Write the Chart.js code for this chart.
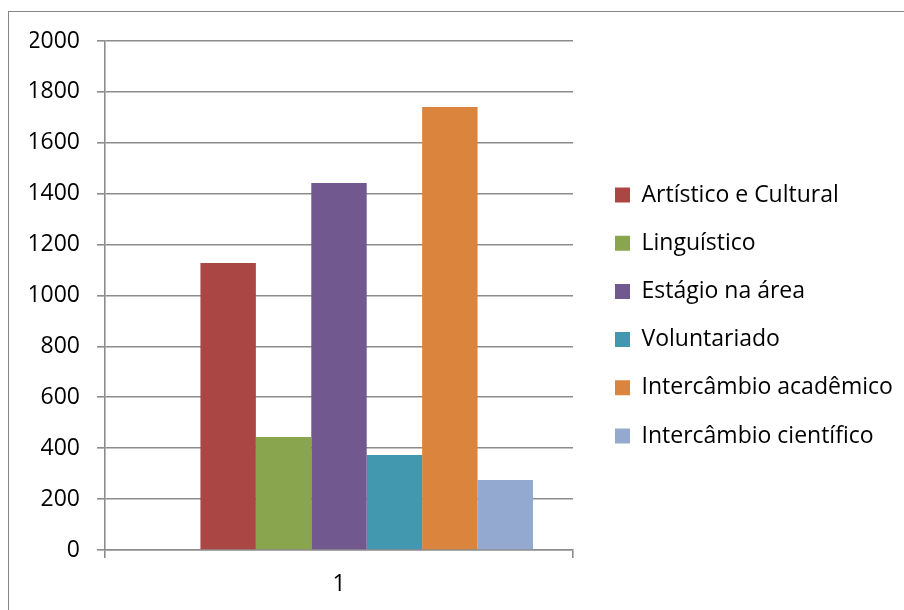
<!DOCTYPE html>
<html>
<head>
<meta charset="utf-8">
<script src="https://cdn.jsdelivr.net/npm/chart.js@4"></script>
<style>
  html, body { margin: 0; padding: 0; background: #fff; }
  #wrap { position: relative; width: 904px; height: 610px; overflow: hidden; }
  #frame { position: absolute; left: 8px; top: 11px; width: 1000px; height: 700px; border: 1px solid #868686; }
  #grafico { position: absolute; left: 0; top: 0; }
</style>
</head>
<body>
<div id="wrap">
  <div id="frame"></div>
  <canvas id="grafico" width="904" height="610"></canvas>
</div>
<script>
// Dados do gráfico
const categorias = ['1'];
const nomesSeries = ['', 'Artístico e Cultural', 'Linguístico', 'Estágio na área', 'Voluntariado', 'Intercâmbio acadêmico', 'Intercâmbio científico'];
const serieVazia = [null];          // série sem valor (ocupa o primeiro lugar do grupo)
const artistico = [1128];
const linguistico = [444];
const estagio = [1442];
const voluntariado = [373];
const intercambioAcademico = [1741];
const intercambioCientifico = [275];
const ticksY = { min: 0, max: 2000, passo: 200 };

const cores = ['#ffffff', '#AA4643', '#89A54E', '#71588F', '#4198AF', '#DB843D', '#93A9CF'];
const valores = [serieVazia, artistico, linguistico, estagio, voluntariado, intercambioAcademico, intercambioCientifico];

Chart.defaults.font.family = '"Open Sans", "Liberation Sans", sans-serif';
Chart.defaults.font.size = 23;
Chart.defaults.color = '#000';

// coloca a legenda à direita do gráfico, como no original
const posicionaLegenda = {
    id: 'posicionaLegenda',
    afterLayout(chart) {
        const lg = chart.legend;
        const pad = lg.options.labels.padding;
        lg.left = 615 - pad;
        lg.top = 183.5 - pad;
        lg.right = chart.width;
        lg.bottom = chart.height;
    }
};

const corGrade = '#8c8c8c';

new Chart(document.getElementById('grafico'), {
    type: 'bar',
    data: {
        labels: categorias,
        datasets: valores.map((v, i) => ({
            label: nomesSeries[i],
            data: v,
            backgroundColor: cores[i],
            borderWidth: 0,
            barPercentage: 1,
            categoryPercentage: 0.829
        }))
    },
    options: {
        responsive: false,
        animation: false,
        layout: { padding: { left: 30, top: 41, right: 331, bottom: 0 } },
        plugins: {
            legend: {
                position: 'chartArea',
                align: 'start',
                labels: {
                    boxWidth: 15,
                    boxHeight: 15,
                    padding: 25.2,
                    color: '#000',
                    filter: (item) => item.text !== ''
                }
            },
            tooltip: { enabled: false }
        },
        scales: {
            x: {
                offset: true,
                grid: { display: true, drawOnChartArea: false, offset: true, tickLength: 8, color: corGrade, lineWidth: 1.6 },
                border: { color: corGrade, width: 1.6 },
                ticks: { padding: 13, color: '#000' },
                afterFit(scale) { scale.height = 60; }
            },
            y: {
                min: ticksY.min,
                max: ticksY.max,
                ticks: { stepSize: ticksY.passo, padding: 17, color: '#000', callback: (v) => String(v) },
                grid: { color: corGrade, tickLength: 8, lineWidth: 1.6 },
                border: { color: corGrade, width: 1.6 },
                afterFit(scale) { scale.width = 75; }
            }
        }
    },
    plugins: [posicionaLegenda]
});
</script>
</body>
</html>
